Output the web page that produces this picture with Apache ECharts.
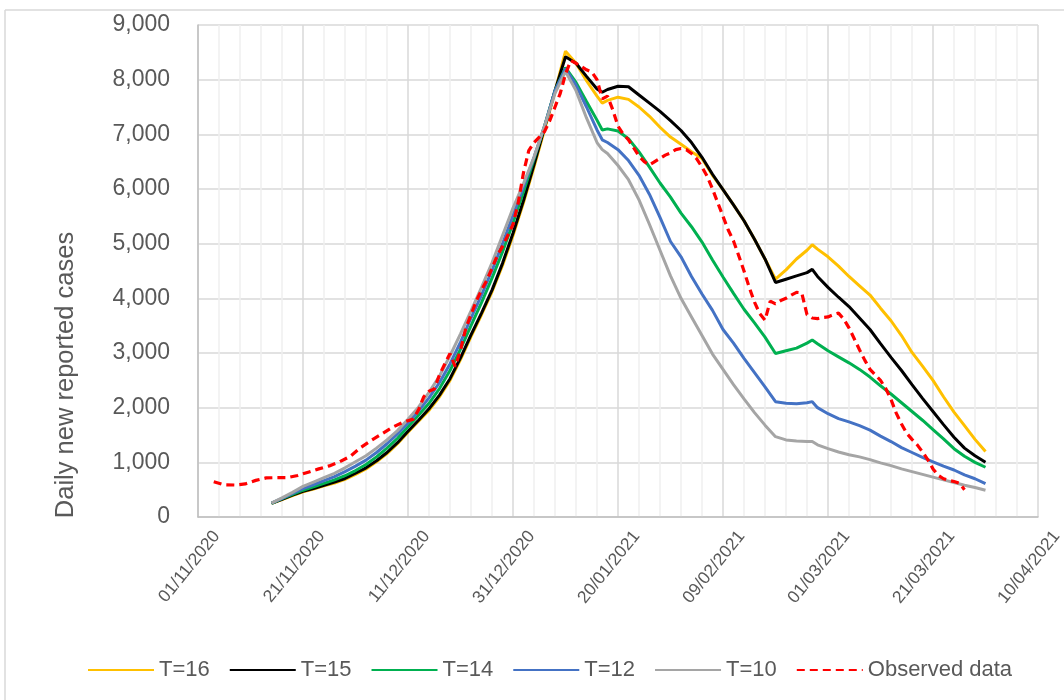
<!DOCTYPE html>
<html>
<head>
<meta charset="utf-8">
<script src="https://cdn.jsdelivr.net/npm/echarts@6/dist/echarts.min.js"></script>
<style>
html,body{margin:0;padding:0;background:#fff;}
#chart{width:1064px;height:700px;}
</style>
</head>
<body>
<div id="chart"></div>
<script>
// ---- Data (day index counted from 01/11/2020) ----
const startDate = [2020, 10, 1]; // 01/11/2020 (month 0-based)
const xTickDays = [0, 20, 40, 60, 80, 100, 120, 140, 160];
const yTicks = [0, 1000, 2000, 3000, 4000, 5000, 6000, 7000, 8000, 9000];
const yTitle = 'Daily new reported cases';

const modelDays = [14,16,18,20,22,24,26,28,30,32,34,36,38,40,42,44,46,48,50,52,54,56,58,60,62,64,66,68,70,
  72,74,76,77,78,80,82,84,86,88,90,92,94,96,98,100,102,104,106,108,110,112,114,116,117,118,120,122,124,126,128,
  130,132,134,136,138,140,142,144,146,148,150];

const t16 = [250,320,390,460,510,570,620,690,780,880,1010,1160,1340,1550,1750,1950,2200,2500,2880,3300,3700,4120,4600,5150,5750,6400,7080,7780,8520,
  8300,7980,7700,7570,7620,7680,7640,7500,7330,7130,6950,6820,6680,6560,6250,5990,5710,5420,5080,4720,4350,4520,4720,4880,4980,4900,4760,4590,4400,4230,4060,
  3820,3590,3320,3010,2760,2500,2200,1920,1670,1420,1200];

const t15 = [250,325,400,470,520,580,640,705,800,900,1030,1180,1360,1570,1770,1980,2230,2530,2910,3330,3730,4150,4640,5190,5790,6440,7120,7800,8420,
  8300,8060,7830,7770,7820,7880,7870,7720,7570,7420,7250,7070,6850,6580,6270,5990,5710,5420,5080,4720,4290,4350,4410,4470,4530,4400,4200,4020,3850,3640,3430,
  3170,2920,2680,2420,2170,1930,1690,1460,1260,1120,1000];

const t14 = [250,335,415,490,550,615,680,755,850,960,1100,1260,1440,1650,1860,2080,2350,2680,3070,3500,3920,4370,4850,5380,5950,6550,7150,7800,8220,
  7950,7600,7260,7080,7100,7060,6920,6680,6400,6110,5850,5560,5310,5030,4700,4390,4090,3800,3550,3290,2990,3040,3090,3180,3237,3170,3040,2930,2820,2700,2560,
  2400,2250,2090,1930,1770,1600,1430,1250,1110,1000,910];

const t12 = [255,340,430,520,590,665,740,830,930,1040,1180,1340,1520,1720,1940,2180,2460,2800,3200,3640,4060,4510,5000,5520,6040,6580,7150,7800,8200,
  7900,7500,7080,6900,6850,6720,6520,6250,5900,5480,5040,4760,4400,4080,3780,3430,3180,2900,2640,2380,2110,2080,2070,2090,2110,2000,1890,1800,1740,1670,1590,
  1480,1380,1270,1180,1090,1010,930,860,770,700,610];

const t10 = [255,350,450,560,640,720,800,900,1010,1120,1260,1410,1580,1790,2010,2280,2580,2950,3350,3770,4200,4650,5150,5650,6100,6580,7150,7750,8150,
  7800,7300,6850,6720,6650,6430,6170,5800,5350,4880,4410,4000,3660,3320,2980,2700,2420,2160,1910,1680,1470,1410,1390,1380,1380,1320,1250,1190,1140,1100,1050,
  990,940,880,830,780,730,680,630,580,540,490];

const obsDays = [3,5,7,9,11,13,15,17,19,21,23,25,27,29,31,33,35,37,39,41,42,43,44,45,46,47,48,49,50,51,52,53,54,55,56,57,58,59,60,
  61,62,63,64,65,66,67,68,69,70,71,72,73,74,75,76,77,78,79,80,81,82,83,84,85,86,87,88,89,90,91,92,93,94,95,96,97,98,99,100,
  101,102,103,104,105,106,107,108,109,110,111,112,113,114,115,116,117,118,119,120,121,122,123,124,125,126,127,128,129,130,
  131,132,133,134,135,136,137,138,139,140,141,142,143,144,145,146];
const observed = [646,590,585,605,670,715,720,720,760,820,880,935,1010,1110,1270,1400,1520,1640,1730,1790,1960,2200,2300,2340,2600,2800,2990,2750,3050,3450,3700,3950,4150,4330,4550,4780,4950,5150,5350,
  5750,6300,6700,6850,6950,7050,7250,7500,7750,8100,8350,8300,8240,8180,8140,8000,7650,7700,7450,7150,7000,6900,6750,6600,6500,6440,6500,6560,6620,6660,6720,6740,6720,6650,6550,6400,6230,6000,5750,5500,
  5250,5050,4780,4500,4200,3930,3720,3600,3950,3900,3960,4000,4060,4110,4100,3700,3640,3630,3650,3660,3700,3730,3620,3460,3260,3060,2870,2700,2600,2500,
  2350,2150,1900,1700,1530,1420,1320,1190,1050,880,760,700,670,650,620,500];

const seriesNames = ['T=16','T=15','T=14','T=12','T=10','Observed data'];
const seriesColors = ['#FFC000','#000000','#00B050','#4472C4','#A5A5A5','#FF0000'];

// ---- build ----
function pair(days, vals){ return days.map((d,i)=>[d, vals[i]]); }
function fmtDate(v){
  const d = new Date(startDate[0], startDate[1], startDate[2] + v);
  const dd = String(d.getDate()).padStart(2,'0');
  const mm = String(d.getMonth()+1).padStart(2,'0');
  return dd + '/' + mm + '/' + d.getFullYear();
}
const modelVals = [t16, t15, t14, t12, t10];
const series = modelVals.map((vals, i) => ({
  name: seriesNames[i], type: 'line', data: pair(modelDays, vals),
  showSymbol: false, symbol: 'none', smooth: false,
  lineStyle: {color: seriesColors[i], width: 3}, itemStyle: {color: seriesColors[i]},
  emphasis: {disabled: true}, animation: false
}));
series.push({
  name: seriesNames[5], type: 'line', data: pair(obsDays, observed),
  showSymbol: false, symbol: 'none', smooth: false,
  lineStyle: {color: seriesColors[5], width: 3.2, type: [8, 5]}, itemStyle: {color: seriesColors[5]},
  emphasis: {disabled: true}, animation: false
});

const chart = echarts.init(document.getElementById('chart'), null, {renderer: 'canvas'});
const font = 'Liberation Sans, Arial, sans-serif';
chart.setOption({
  animation: false,
  backgroundColor: '#ffffff',
  textStyle: {fontFamily: font},
  grid: {left: 198, right: 26, top: 25, bottom: 183, containLabel: false, outerBoundsMode: 'none'},
  xAxis: {
    type: 'value', min: xTickDays[0], max: xTickDays[xTickDays.length-1], interval: 20,
    axisLine: {show: true, lineStyle: {color: '#BFBFBF', width: 1.5}},
    axisTick: {show: false},
    axisLabel: {rotate: 51, fontSize: 17.5, color: '#595959', fontFamily: font, margin: 1,
      align: 'right', verticalAlign: 'top', lineHeight: 48,
      formatter: v => fmtDate(v)},
    splitLine: {show: true, lineStyle: {color: '#D9D9D9', width: 1.5}},
    minorTick: {show: false, splitNumber: 5},
    minorSplitLine: {show: true, lineStyle: {color: '#F0F0F0', width: 1.5}}
  },
  yAxis: {
    type: 'value', min: yTicks[0], max: yTicks[yTicks.length-1], interval: 1000,
    axisLine: {show: true, lineStyle: {color: '#BFBFBF', width: 1.5}},
    axisTick: {show: false},
    axisLabel: {fontSize: 23, color: '#595959', fontFamily: font, margin: 28,
      formatter: v => v.toLocaleString('en-US')},
    splitLine: {show: true, lineStyle: {color: '#D9D9D9', width: 1.5}}
  },
  legend: {
    bottom: 14, left: 82,
    itemWidth: 66, itemHeight: 14, itemGap: 19,
    itemStyle: {opacity: 0},
    textStyle: {fontSize: 22, color: '#595959', fontFamily: font},
    data: seriesNames
  },
  graphic: [
    {type: 'line', shape: {x1: 5, y1: 10, x2: 1064, y2: 10}, style: {stroke: '#D9D9D9', lineWidth: 1.5}, silent: true},
    {type: 'line', shape: {x1: 5, y1: 10, x2: 5, y2: 700}, style: {stroke: '#D9D9D9', lineWidth: 1.5}, silent: true},
    {type: 'text', x: 66, y: 375, rotation: Math.PI / 2, silent: true,
      style: {text: yTitle, fontSize: 25.5, fill: '#595959', fontFamily: font, align: 'center', verticalAlign: 'middle'}}
  ],
  series: series
});
</script>
</body>
</html>
